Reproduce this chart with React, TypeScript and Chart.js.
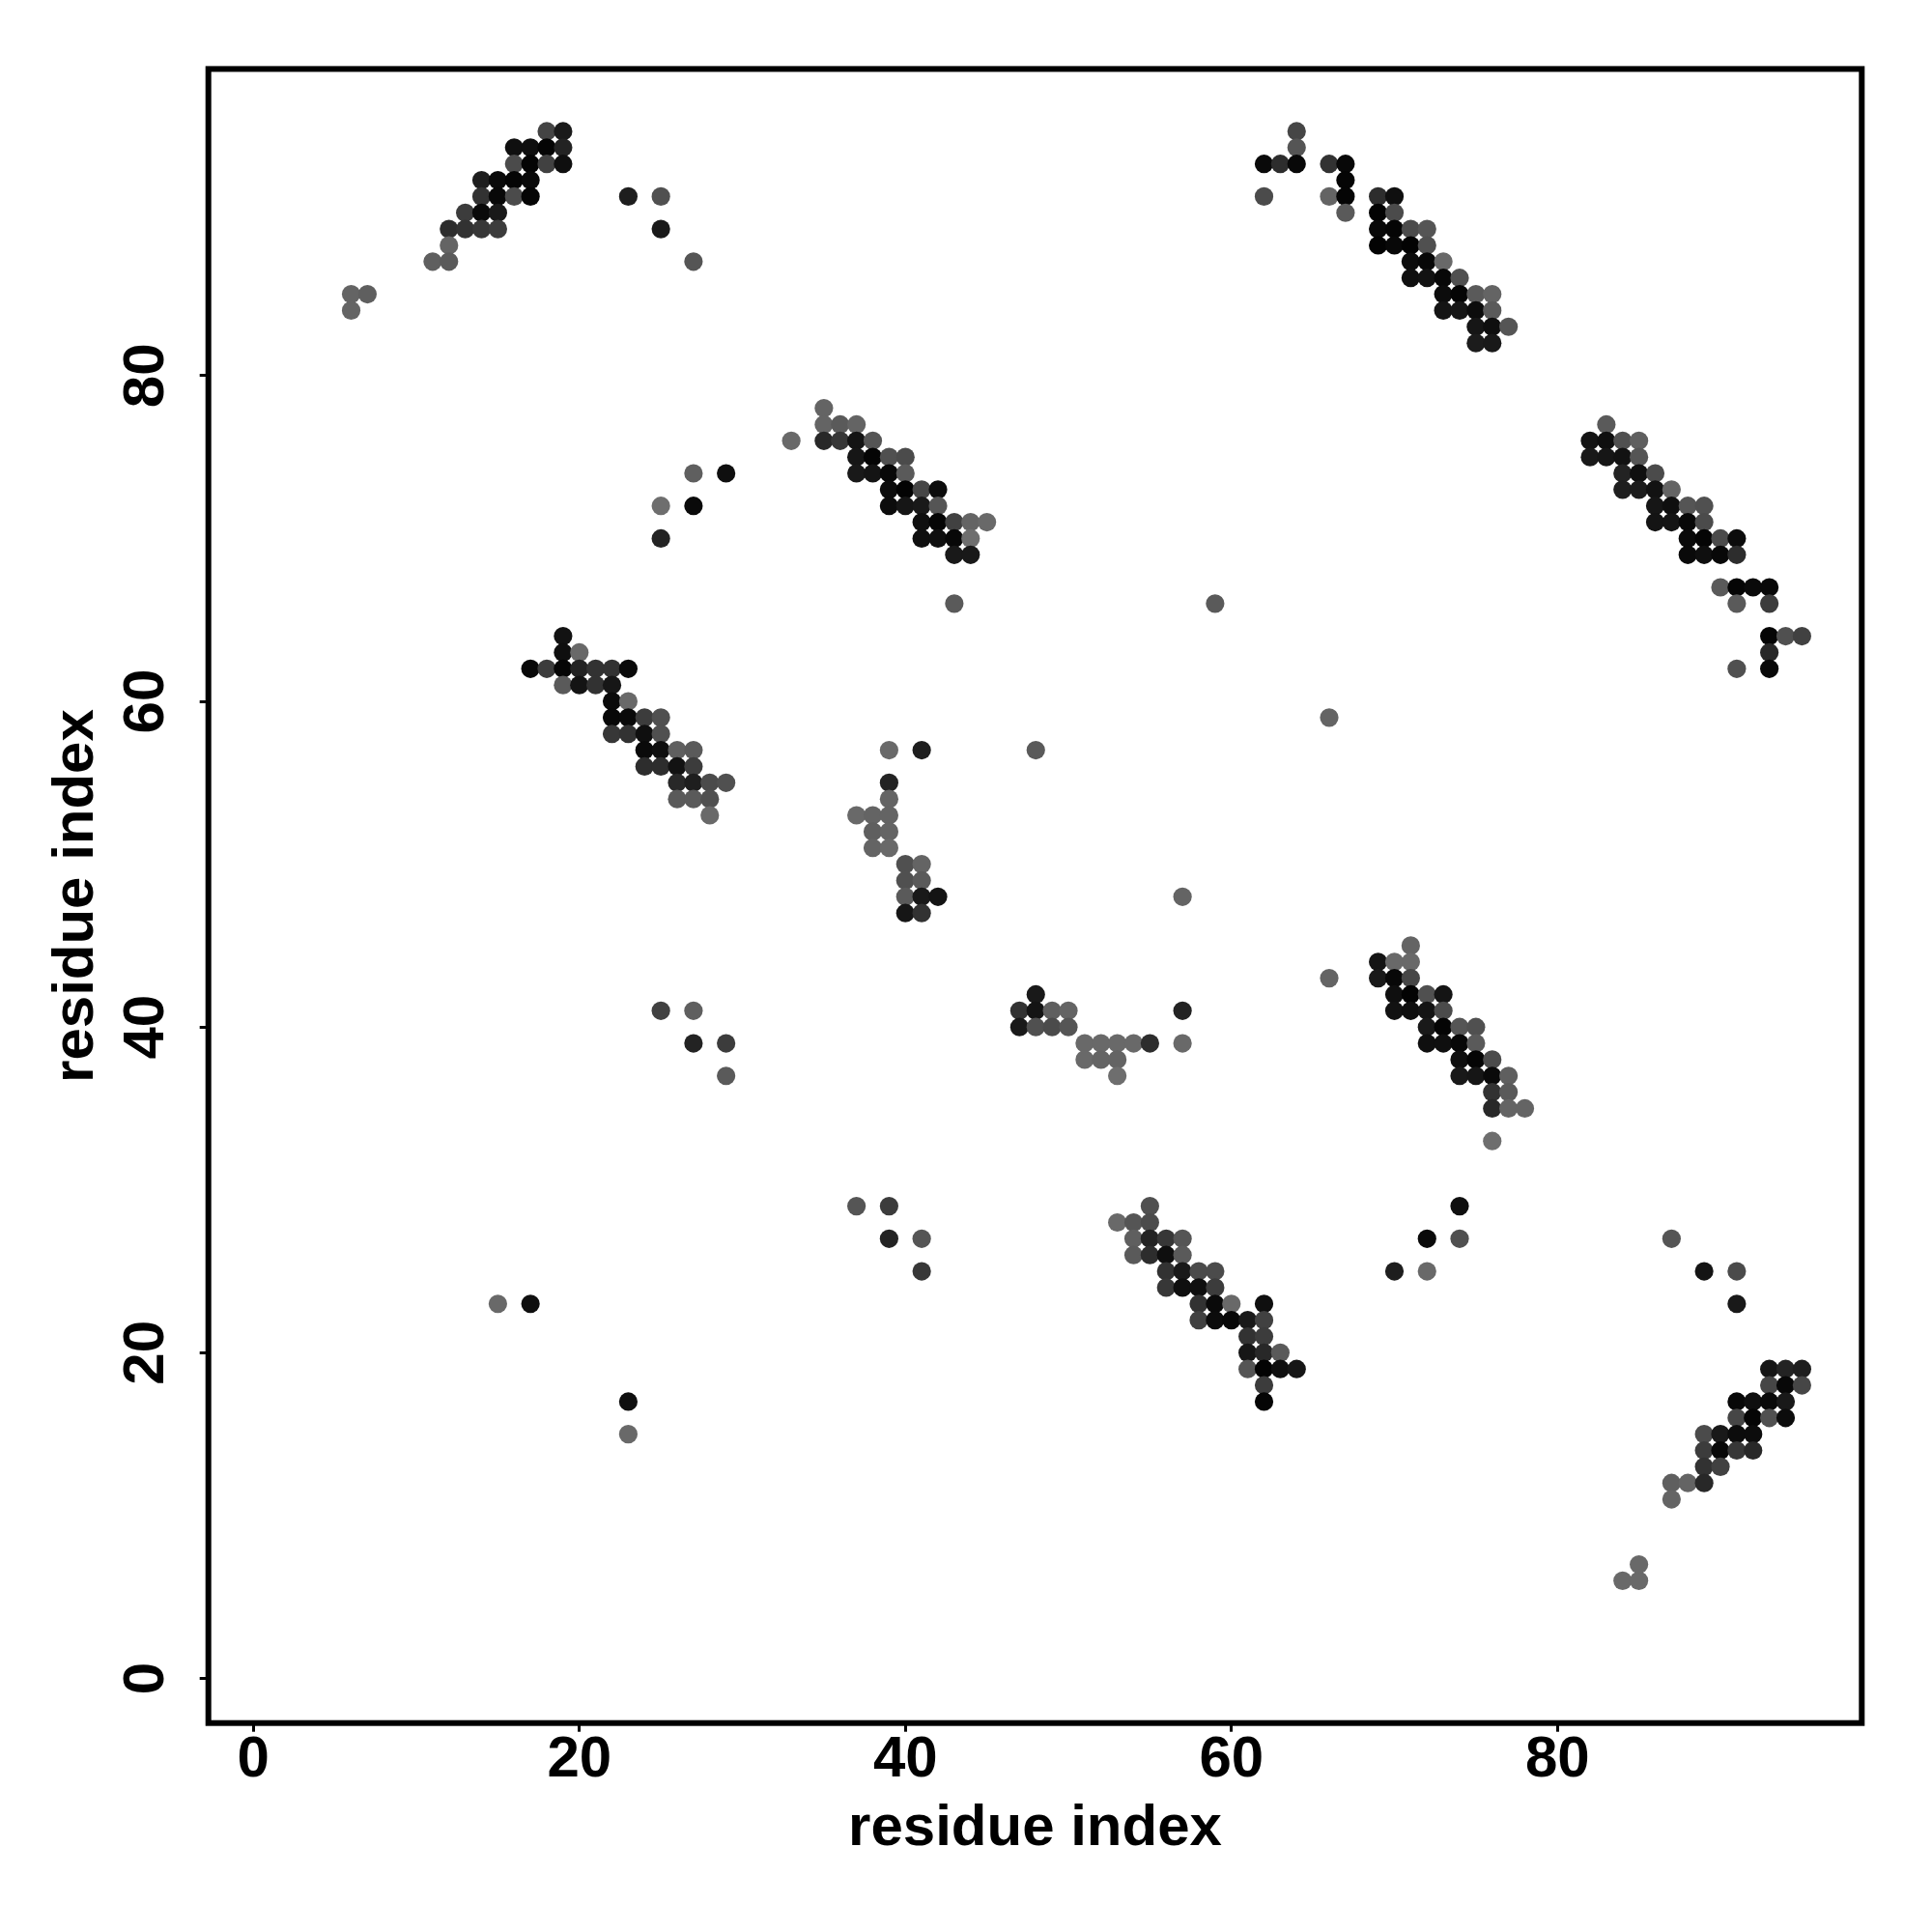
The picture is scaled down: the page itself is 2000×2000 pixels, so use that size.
import React, { useEffect, useRef } from "react";
import { Chart, registerables } from "chart.js";

Chart.register(...registerables);

type Contact = [number, number, number]; // residue i, residue j, contact grey level

const tickValues = [0, 20, 40, 60, 80];
const axisTitle = "residue index";

const blockA: Contact[] = [
  [18,95,68],[19,95,26],[16,94,15],[17,94,15],[18,94,5],[19,94,35],[16,93,75],[17,93,5],[18,93,65],[19,93,15],
  [14,92,30],[15,92,10],[16,92,5],[17,92,10],[14,91,50],[15,91,8],[16,91,75],[17,91,5],[13,90,60],[14,90,10],[15,90,25],
  [12,89,45],[13,89,50],[14,89,55],[15,89,60],[12,88,100],[11,87,95],[12,87,90],[6,85,100],[7,85,95],[6,84,100],
];
const blockB: Contact[] = [
  [64,95,70],[64,94,85],[62,93,10],[63,93,45],[64,93,8],[66,93,50],[67,93,8],[67,92,5],[62,91,75],[66,91,100],[67,91,5],[69,91,45],[70,91,15],
  [67,90,90],[69,90,3],[70,90,75],[69,89,8],[70,89,5],[71,89,75],[72,89,85],[69,88,3],[70,88,8],[71,88,3],[72,88,80],
  [71,87,12],[72,87,8],[73,87,105],[71,86,15],[72,86,18],[73,86,8],[74,86,80],[73,85,12],[74,85,5],[75,85,90],[76,85,100],
  [73,84,20],[74,84,22],[75,84,12],[76,84,90],[75,83,22],[76,83,15],[77,83,85],[75,82,28],[76,82,25],
];
const blockC: Contact[] = [
  [35,78,100],[35,77,100],[36,77,90],[37,77,100],[33,76,105],[35,76,40],[36,76,55],[37,76,20],[38,76,85],
  [37,75,22],[38,75,5],[39,75,80],[40,75,75],[37,74,25],[38,74,20],[39,74,8],[40,74,90],[39,73,12],[40,73,3],[41,73,70],[42,73,12],
  [39,72,12],[40,72,22],[41,72,25],[42,72,85],[41,71,15],[42,71,5],[43,71,65],[44,71,100],[45,71,105],
  [41,70,15],[42,70,15],[43,70,8],[44,70,110],[43,69,25],[44,69,25],
];
const blockD: Contact[] = [
  [83,77,90],[82,76,20],[83,76,15],[84,76,80],[85,76,95],[82,75,25],[83,75,22],[84,75,18],[85,75,85],
  [84,74,35],[85,74,15],[86,74,75],[84,73,30],[85,73,28],[86,73,18],[87,73,100],[86,72,22],[87,72,15],[88,72,85],[89,72,80],
  [86,71,20],[87,71,20],[88,71,8],[89,71,75],[88,70,10],[89,70,5],[90,70,75],[91,70,12],[88,69,10],[89,69,15],[90,69,8],[91,69,45],
  [90,67,90],[91,67,5],[92,67,10],[93,67,8],[91,66,90],[93,66,60],[93,64,5],[94,64,80],[95,64,65],[93,63,40],[91,62,80],[93,62,8],
];
const blockE: Contact[] = [
  [19,64,18],[19,63,15],[20,63,105],[17,62,8],[18,62,60],[19,62,5],[20,62,35],[21,62,50],[22,62,50],[23,62,10],
  [19,61,90],[20,61,20],[21,61,50],[22,61,22],[22,60,10],[23,60,105],[22,59,8],[23,59,10],[24,59,60],[25,59,80],
  [22,58,55],[23,58,50],[24,58,15],[25,58,80],[24,57,10],[25,57,15],[26,57,95],[27,57,90],[24,56,45],[25,56,45],[26,56,18],[27,56,60],
  [26,55,40],[27,55,30],[28,55,75],[29,55,80],[26,54,90],[27,54,90],[28,54,80],[28,53,105],
];
const blockF: Contact[] = [
  [39,57,105],[41,57,30],[39,55,35],[39,54,100],[37,53,105],[38,53,100],[39,53,100],[38,52,95],[39,52,100],[38,51,100],[39,51,105],
  [40,50,80],[41,50,100],[40,49,80],[41,49,90],[40,48,90],[41,48,25],[42,48,20],[40,47,22],[41,47,50],
];
const blockG: Contact[] = [
  [48,42,25],[47,41,50],[48,41,20],[49,41,95],[50,41,100],[47,40,25],[48,40,80],[49,40,75],[50,40,85],
  [51,39,105],[52,39,105],[53,39,105],[54,39,105],[55,39,45],[57,41,35],[57,39,105],[51,38,105],[52,38,100],[53,38,100],[53,37,110],
];
const blockH: Contact[] = [
  [71,45,100],[69,44,20],[70,44,105],[71,44,105],[69,43,25],[70,43,8],[71,43,70],[70,42,15],[71,42,3],[72,42,80],[73,42,20],
  [70,41,18],[71,41,15],[72,41,20],[73,41,75],[72,40,25],[73,40,5],[74,40,85],[75,40,80],[72,39,15],[73,39,15],[74,39,8],[75,39,90],
  [74,38,15],[75,38,5],[76,38,75],[74,37,25],[75,37,22],[76,37,10],[77,37,95],[76,36,50],[77,36,90],[76,35,40],[77,35,100],[78,35,100],
];
const blockI: Contact[] = [
  [55,29,80],[53,28,105],[54,28,85],[55,28,75],[54,27,95],[55,27,35],[56,27,55],[57,27,85],[54,26,90],[55,26,45],[56,26,15],[57,26,90],
  [56,25,50],[57,25,25],[58,25,75],[59,25,75],[56,24,55],[57,24,15],[58,24,15],[59,24,60],[58,23,50],[59,23,10],[60,23,105],[62,23,15],
  [58,22,65],[59,22,12],[60,22,8],[61,22,25],[62,22,65],[61,21,50],[62,21,60],[61,20,22],[62,20,40],[63,20,90],
  [61,19,85],[62,19,3],[63,19,15],[64,19,22],[62,18,60],[62,17,5],
];
const blockJ: Contact[] = [
  [93,19,22],[94,19,35],[95,19,30],[93,18,70],[94,18,8],[95,18,70],[91,17,8],[92,17,15],[93,17,10],[94,17,25],
  [91,16,70],[92,16,5],[93,16,80],[94,16,12],[89,15,75],[90,15,25],[91,15,12],[92,15,12],[89,14,60],[90,14,8],[91,14,55],[92,14,40],
  [89,13,50],[90,13,65],[87,12,95],[88,12,100],[89,12,40],[87,11,100],[84,6,105],[85,6,105],[85,7,105],
];
const scattered: Contact[] = [
  [23,91,30],[25,91,80],[25,89,25],[27,87,85],[43,66,90],[59,66,90],[25,72,110],[27,74,95],[29,74,15],[27,72,10],[25,70,35],
  [66,43,100],[76,33,110],[25,41,65],[27,41,95],[27,39,35],[29,39,60],[29,37,90],[48,57,90],[66,59,100],[57,48,100],
  [37,29,85],[39,29,60],[39,27,35],[41,27,85],[41,25,55],[15,23,105],[17,23,15],[23,17,15],[23,15,105],
  [74,29,15],[72,27,10],[74,27,80],[70,25,30],[72,25,105],[87,27,85],[89,25,20],[91,25,75],[91,23,25],
];

const allContacts = [
  ...blockA, ...blockB, ...blockC, ...blockD, ...blockE, ...blockF, ...blockG, ...blockH, ...blockI, ...blockJ, ...scattered,
];

const framePlugin = {
  id: "frame",
  afterDraw(chart: any) {
    const { ctx, chartArea } = chart;
    ctx.save();
    ctx.strokeStyle = "#000";
    ctx.lineWidth = 6;
    ctx.lineJoin = "miter";
    ctx.strokeRect(chartArea.left, chartArea.top, chartArea.right - chartArea.left, chartArea.bottom - chartArea.top);
    ctx.restore();
  },
};

const fontFamily = '"Liberation Sans", Arial, sans-serif';
const axisFont = { family: fontFamily, size: 60, weight: "bold" as const };

export default function App() {
  const ref = useRef<HTMLCanvasElement>(null);
  useEffect(() => {
    const setTicks = (axis: any) => {
      axis.ticks = tickValues.map((value) => ({ value }));
    };
    const chart = new Chart(ref.current!, {
      type: "scatter",
      data: {
        datasets: [
          {
            data: allContacts.map(([x, y]) => ({ x, y })),
            pointBackgroundColor: allContacts.map(([, , g]) => `rgb(${g},${g},${g})`),
            pointBorderWidth: 0,
            pointRadius: 9.6,
          },
        ],
      },
      options: {
        responsive: false,
        animation: false,
        devicePixelRatio: 1,
        layout: { padding: { top: 71.4, right: 72.7, left: 0, bottom: 0 } },
        plugins: { legend: { display: false }, tooltip: { enabled: false } },
        scales: {
          x: {
            type: "linear",
            min: -2.76,
            max: 98.67,
            afterBuildTicks: setTicks,
            afterFit: (s: any) => { s.height = 2000 - 1783.7; },
            grid: { drawOnChartArea: false, tickLength: 9, tickWidth: 3, tickColor: "#000" },
            border: { display: false },
            ticks: { color: "#000", font: axisFont, padding: -6, maxRotation: 0, minRotation: 0, autoSkip: false },
            title: { display: true, text: axisTitle, color: "#000", font: axisFont, padding: { top: 0, bottom: 71 } },
          },
          y: {
            type: "linear",
            min: -2.74,
            max: 98.83,
            afterBuildTicks: setTicks,
            afterFit: (s: any) => { s.width = 215.7; },
            grid: { drawOnChartArea: false, tickLength: 9, tickWidth: 3, tickColor: "#000" },
            border: { display: false },
            ticks: { color: "#000", font: axisFont, padding: 21, minRotation: 90, maxRotation: 90, crossAlign: "center", autoSkip: false },
            title: { display: true, text: axisTitle, color: "#000", font: axisFont, padding: { top: 43, bottom: 0 } },
          },
        },
      },
      plugins: [framePlugin],
    } as any);
    return () => chart.destroy();
  }, []);
  return (
    <div style={{ position: "absolute", left: 0, top: 0, width: 2000, height: 2000, background: "#fff" }}>
      <canvas ref={ref} width={2000} height={2000} style={{ display: "block" }} />
    </div>
  );
}
